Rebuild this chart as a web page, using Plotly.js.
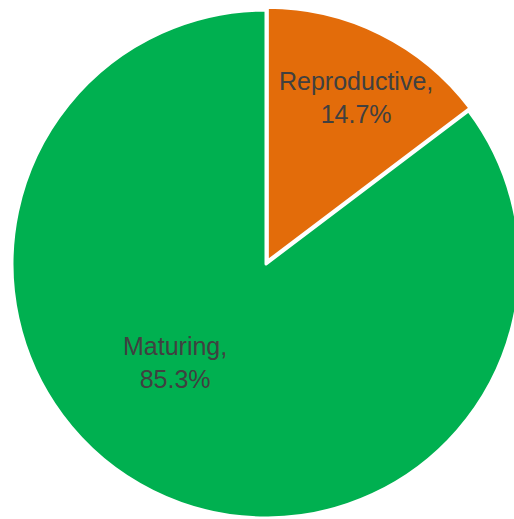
<!DOCTYPE html>
<html>
<head>
<meta charset="utf-8">
<script src="https://cdn.plot.ly/plotly-3.0.1.min.js"></script>
<style>
html,body{margin:0;padding:0;overflow:hidden;background:#fff;}
#chart{width:532px;height:528px;}
</style>
</head>
<body>
<div id="chart"></div>
<script>
const categories = ["Reproductive", "Maturing"];
const shares = [14.7, 85.3];
const sliceColors = ["#E36C0A", "#00B050"];

const W = 532, H = 528;
const cx = 266, cy = 264, rd = 257;
// label anchor points in pixels (layout only)
const labelPos = [[356, 97], [175, 362]];

const trace = {
  type: "pie",
  labels: categories,
  values: shares,
  sort: false,
  direction: "clockwise",
  rotation: 0,
  pull: [0.012, 0],
  marker: {colors: sliceColors, line: {color: "#ffffff", width: 3}},
  textinfo: "none",
  hoverinfo: "none",
  domain: {x: [(cx - rd) / W, (cx + rd) / W], y: [(H - cy - rd) / H, (H - cy + rd) / H]}
};

const annotations = categories.map((c, i) => ({
  xref: "paper", yref: "paper",
  x: labelPos[i][0] / W, y: 1 - labelPos[i][1] / H,
  xanchor: "center", yanchor: "middle",
  showarrow: false,
  text: c + ",<br>" + shares[i].toFixed(1) + "%",
  font: {family: "Liberation Sans, Arial, sans-serif", size: 25, color: "#404040"}
}));

const layout = {
  width: W, height: H,
  margin: {l: 0, r: 0, t: 0, b: 0},
  showlegend: false,
  paper_bgcolor: "#ffffff",
  annotations: annotations
};

Plotly.newPlot("chart", [trace], layout, {staticPlot: true, displayModeBar: false});
</script>
</body>
</html>
